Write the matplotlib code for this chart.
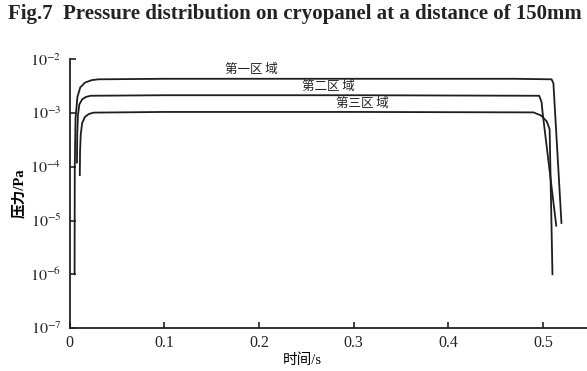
#!/usr/bin/env python3

import numpy as np
from matplotlib import pyplot as plt

plt.rcParams['font.family'] = ['Liberation Serif', 'Noto Sans CJK SC', 'DejaVu Sans']
plt.rcParams['mathtext.fontset'] = 'stix'

# zone 1 (top curve)
t1 = [0.0050, 0.0052, 0.0060, 0.0080, 0.0110, 0.0160, 0.0230, 0.0300, 0.10, 0.30, 0.4700, 0.5090, 0.5110, 0.5195]
p1 = [1.0e-6, 1.0e-4, 8.0e-4, 2.0e-3, 3.0e-3, 3.7e-3, 4.1e-3, 4.25e-3, 4.35e-3, 4.35e-3, 4.35e-3, 4.25e-3, 3.6e-3, 9.0e-6]

# zone 2 (middle curve)
t2 = [0.0075, 0.0078, 0.0085, 0.0100, 0.0130, 0.0170, 0.0220, 0.10, 0.30, 0.4960, 0.4985, 0.4995, 0.5140]
p2 = [1.2e-4, 4.0e-4, 9.0e-4, 1.45e-3, 1.8e-3, 2.0e-3, 2.1e-3, 2.15e-3, 2.15e-3, 2.1e-3, 1.6e-3, 1.05e-3, 8.0e-6]

# zone 3 (bottom curve)
t3 = [0.0105, 0.0108, 0.0115, 0.0130, 0.0160, 0.0200, 0.0250, 0.10, 0.30, 0.4900, 0.4980, 0.5040, 0.5070, 0.5100]
p3 = [7.0e-5, 2.0e-4, 4.0e-4, 6.5e-4, 8.5e-4, 9.6e-4, 1.02e-3, 1.05e-3, 1.05e-3, 1.03e-3, 9.0e-4, 7.0e-4, 5.0e-4, 1.0e-6]

zones = [(t1, p1), (t2, p2), (t3, p3)]
zone_labels = ['第一区 域', '第二区 域', '第三区 域']
label_pos = [(0.192, 6.5e-3), (0.273, 3.1e-3), (0.309, 1.5e-3)]

xticks = [0, 0.1, 0.2, 0.3, 0.4, 0.5]
xticklabels = ['0', '0.1', '0.2', '0.3', '0.4', '0.5']
yticks = [1e-7, 1e-6, 1e-5, 1e-4, 1e-3, 1e-2]
yticklabels = [r'$10^{-7}$', r'$10^{-6}$', r'$10^{-5}$', r'$10^{-4}$', r'$10^{-3}$', r'$10^{-2}$']

LINEKW = {'color': '#1e1e1e', 'lw': 1.3, 'solid_joinstyle': 'round'}

fig = plt.figure(figsize=(5.87, 3.71), dpi=100)
ax = fig.add_axes([0.119, 0.116, 0.881, 0.724])

for t, p in zones:
    ax.plot(t, p, **LINEKW)

for lab, (x, y) in zip(zone_labels, label_pos):
    ax.text(x, y, lab, fontsize=9, ha='center', va='center',
            family=['Noto Sans CJK SC'], color='#222222')

ax.set_yscale('log')
ax.set_xlim(0, 0.5465)
ax.set_ylim(1e-7, 1e-2)
ax.set_xticks(xticks)
ax.set_xticklabels(xticklabels, fontsize=11.5)
ax.set_yticks(yticks)
ax.set_yticklabels(yticklabels, fontsize=11.5)
ax.minorticks_off()
ax.tick_params(direction='in', length=4, width=1.2, colors='#222222', pad=5)
ax.tick_params(axis='y', pad=6)

for s in ('top', 'right'):
    ax.spines[s].set_visible(False)
for s in ('left', 'bottom'):
    ax.spines[s].set_linewidth(1.3)
    ax.spines[s].set_color('#222222')

ax.set_xlabel('时间/s', fontsize=10.5)
ax.xaxis.set_label_coords(0.45, -0.095)
ax.set_ylabel('压力/Pa', fontsize=10.5, fontweight='bold')
ax.yaxis.set_label_coords(-0.085, 0.5)

fig.text(0.013, 0.962, 'Fig.7  Pressure distribution on cryopanel at a distance of 150mm',
         fontsize=15, fontweight='bold', va='center', ha='left', color='#222222')

plt.savefig('out.png', dpi=100)
